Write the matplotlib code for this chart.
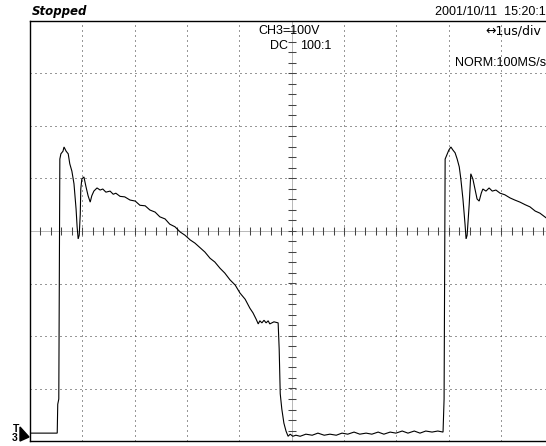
import numpy as np
import matplotlib
matplotlib.use("Agg")
import matplotlib.pyplot as plt
from matplotlib.patches import Polygon

plt.rcParams['lines.scale_dashes'] = False

# scope settings
volts_per_div = 100.0   # CH3=100V
us_per_div = 1.0        # 1us/div

# trace: time in us, voltage in V
t_us = [0.00, 0.52, 0.53, 0.55, 0.57, 0.59, 0.63, 0.65, 0.69, 0.73, 0.76, 0.80,
        0.84, 0.88, 0.90, 0.92, 0.94, 0.96, 0.97, 0.99, 1.03, 1.07, 1.11, 1.15,
        1.18, 1.22, 1.28, 1.34, 1.39, 1.45, 1.53, 1.59, 1.64, 1.72, 1.81, 1.91,
        2.01, 2.10, 2.20, 2.29, 2.39, 2.48, 2.58, 2.67, 2.77, 2.87, 2.96, 3.06,
        3.15, 3.25, 3.34, 3.44, 3.53, 3.63, 3.72, 3.82, 3.92, 4.01, 4.11, 4.20,
        4.26, 4.32, 4.36, 4.39, 4.43, 4.47, 4.51, 4.55, 4.58, 4.66, 4.74, 4.76,
        4.78, 4.81, 4.85, 4.89, 4.93, 4.97, 5.02, 5.08, 5.16, 5.27, 5.39, 5.50,
        5.62, 5.73, 5.85, 5.96, 6.07, 6.19, 6.30, 6.42, 6.53, 6.65, 6.76, 6.88,
        6.99, 7.11, 7.22, 7.34, 7.45, 7.56, 7.68, 7.79, 7.89, 7.91, 7.93, 7.97,
        8.00, 8.04, 8.08, 8.12, 8.16, 8.20, 8.23, 8.27, 8.31, 8.33, 8.35, 8.39,
        8.42, 8.46, 8.50, 8.54, 8.58, 8.62, 8.65, 8.71, 8.77, 8.83, 8.90, 8.98,
        9.07, 9.17, 9.26, 9.36, 9.46, 9.55, 9.65, 9.74, 9.86]
v_volts = [-385, -385, -330, -320, 137, 147, 152, 160, 152, 147, 128, 114,
           90, 42, 8, -15, -8, 32, 80, 99, 103, 84, 67, 55,
           67, 76, 82, 78, 80, 74, 76, 70, 72, 66, 65, 59,
           57, 49, 48, 40, 36, 27, 23, 13, 8, -2, -8, -17,
           -23, -32, -40, -52, -59, -71, -80, -93, -103, -118, -130, -147,
           -156, -168, -177, -171, -175, -170, -175, -171, -177, -173, -175, -225,
           -310, -339, -366, -381, -391, -387, -391, -389, -391, -387, -389, -385,
           -389, -387, -389, -385, -387, -383, -387, -385, -387, -383, -387, -383,
           -385, -381, -385, -381, -385, -381, -383, -381, -383, -320, 137, 147,
           154, 160, 154, 149, 137, 122, 99, 61, 13, -15, -8, 51,
           109, 99, 80, 61, 57, 72, 80, 76, 82, 76, 78, 72,
           69, 63, 59, 55, 50, 46, 38, 34, 25]

W, H = 546, 446
fig = plt.figure(figsize=(W / 100, H / 100), dpi=100)
fig.patch.set_facecolor("white")

# screen: 10 x 8 divisions, right edge runs off the picture
ax = fig.add_axes([30 / W, 5 / H, 523.5 / W, 420 / H])
ax.set_xlim(0, 10)
ax.set_ylim(-4, 4)
ax.set_xticks([])
ax.set_yticks([])
for side in ["left", "top", "bottom"]:
    ax.spines[side].set_linewidth(1.0)
    ax.spines[side].set_color("black")
ax.spines["right"].set_visible(False)

# dotted graticule
dots = (0, (0.72, 2.88))
for gx in range(1, 10):
    if gx != 5:
        ax.axvline(gx, color="#333333", lw=0.72, ls=dots)
for gy in range(-3, 4):
    if gy != 0:
        ax.axhline(gy, color="#333333", lw=0.72, ls=dots)

# centre cross with minor ticks
fine = (0, (0.72, 0.72))
ax.axhline(0, color="#777777", lw=0.72, ls=fine)
ax.axvline(5, color="#777777", lw=0.72, ls=fine)
minor = np.arange(0.2, 10, 0.2)
ax.vlines(minor, -0.075, 0.075, color="#444444", lw=0.75)
minor_y = np.arange(-3.8, 4, 0.2)
ax.hlines(minor_y, 5 - 0.075, 5 + 0.075, color="#444444", lw=0.75)

# waveform
t = np.array(t_us) / us_per_div
v = np.array(v_volts) / volts_per_div
ax.plot(t, v, color="black", lw=0.8, solid_joinstyle="miter")

# labels on the screen
def px(x, y):
    return x / W, 1 - y / H

fig.text(*px(32, 12), "Stopped", fontsize=8.5, fontweight="bold",
         fontstyle="italic", family="DejaVu Sans", va="center", ha="left")
fig.text(*px(546, 12), "2001/10/11  15:20:1", fontsize=9,
         family="Liberation Sans", va="center", ha="right")
fig.text(*px(258, 31), "CH3=100V", fontsize=9, family="Liberation Sans",
         va="center", ha="left")
fig.text(*px(270, 46), "DC", fontsize=9, family="Liberation Sans",
         va="center", ha="left")
fig.text(*px(300, 46), "100:1", fontsize=9, family="Liberation Sans",
         va="center", ha="left")
fig.text(*px(541, 31), "\u21941us/div", fontsize=9, family="DejaVu Sans",
         va="center", ha="right")
fig.text(*px(546, 63), "NORM:100MS/s", fontsize=9, family="Liberation Sans",
         va="center", ha="right")

# trigger marker at the lower left
fig.text(*px(16, 429), "T", fontsize=7.5, family="Liberation Sans",
         fontweight="bold", va="center", ha="center")
fig.text(*px(15, 438), "3", fontsize=7.5, family="Liberation Sans",
         fontweight="bold", va="center", ha="center")
tri = Polygon([px(20, 427), px(29, 437), px(20, 441)], closed=True,
              transform=fig.transFigure, color="black")
fig.patches.append(tri)

fig.savefig("out.png", dpi=100)
